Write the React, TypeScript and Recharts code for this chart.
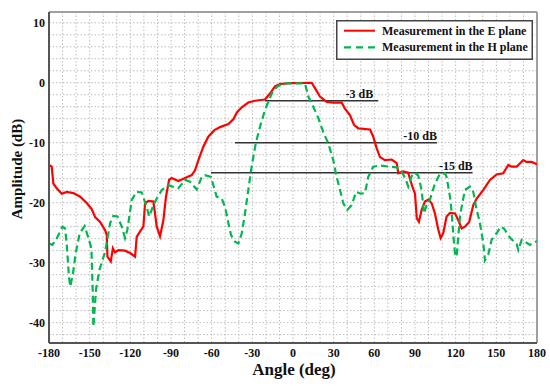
import React from 'react';
import { LineChart, Line, XAxis, YAxis, CartesianGrid, ReferenceLine, Legend } from 'recharts';

const eAngles = [
  -180, -178, -176.8, -174.3, -170.6, -166.9, -162, -157, -152, -148.4, -146, -142.3, -138.6, -137.4,
  -136.9, -134.4, -132.9, -131.3, -128.8, -123.9, -120.2, -116.5, -115.3, -112.8, -110.4, -109.1, -106.7,
  -103, -100.5, -98.1, -95.6, -93.7, -91.4, -89.5, -84.6, -79.6, -74.7, -72.3, -69.8, -66.2, -62.5, -58,
  -53.8, -47.7, -44, -41.5, -37.8, -33, -28, -20.6, -17, -13.3, -9.6, -2, 13.8, 16.2, 19.9, 24.9, 29.7,
  35.9, 38.3, 42, 45, 48.2, 56.8, 59.2, 61.7, 64.2, 67.8, 72.8, 76.5, 77.7, 81.3, 85, 86.5, 88, 90, 91.3,
  92.9, 94.9, 97.3, 99.8, 102.3, 104.7, 107.2, 108.9, 110.8, 113.3, 115.8, 119.5, 121.9, 124.4, 126.8,
  130, 133, 135.5, 140.3, 145.3, 150.2, 155.1, 158.8, 161.3, 165, 169.8, 172.3, 176, 180,
];
const eValues = [
  -13.7, -14.0, -16.8, -17.6, -18.5, -18.2, -18.4, -19.0, -20.1, -21.1, -22.4, -23.2, -24.6, -25.4,
  -29.0, -29.8, -27.6, -28.3, -27.9, -28.0, -28.4, -29.0, -25.7, -24.8, -24.0, -20.1, -19.7,
  -19.8, -24.0, -25.6, -22.9, -19.0, -16.2, -15.9, -16.4, -15.9, -15.4, -14.6, -12.9, -10.7, -9.0, -7.9,
  -7.4, -6.9, -6.1, -5.0, -4.1, -3.3, -3.0, -2.8, -1.8, -0.6, -0.2, -0.05, 0, -0.9, -2.3, -3.2, -3.3,
  -3.3, -4.3, -5.4, -7.0, -7.6, -7.8, -9.0, -10.9, -12.4, -12.9, -12.8, -13.4, -15.1, -14.8, -15.0, -16.2, -17.3, -18.5, -22.6,
  -23.2, -21.2, -19.8, -19.5, -20.1, -21.8, -24.5, -25.9, -25.1, -22.3, -21.7, -21.8, -22.9, -24.3, -24.0,
  -23.2, -20.4, -19.3, -17.9, -16.2, -15.3, -15.1, -13.7, -14.0, -14.0, -12.9, -13.2, -13.2, -13.6,
];

const hAngles = [
  -180, -177.5, -174.6, -170.1, -168.1, -166.8, -165.3, -164.3, -162.3, -160.3, -157.3, -153.7, -151.2,
  -148.7, -147.7, -147.3, -145.3, -142.8, -138.6, -136.2, -134.9, -132.5, -129.5, -126.3, -123.9, -122.2,
  -118.9, -115.3, -111.6, -108.4, -106, -103, -100.5, -96.8, -92, -84.6, -79.6, -76, -71, -67.3, -64.9,
  -60.5, -56.3, -52.6, -50.1, -47.7, -45.7, -42.8, -40.3, -37.8, -35.4, -33, -30.5, -27.5, -24.3, -20.6,
  -17.7, -14.5, -10.8, -5.9, 8.8, 11.3, 15, 18.7, 22.3, 26, 29.7, 32.2, 34.7, 37.1, 40, 43.3, 46.5, 49.9,
  53.1, 55.5, 59.2, 64.2, 71.5, 76.5, 80.2, 83.3, 85, 87.5, 90, 92.4, 94.9, 96.6, 98.6, 101, 104.7, 108.4,
  112.1, 113.3, 115.8, 117, 118.2, 119.5, 120.7, 121.9, 123.2, 124.4, 126.8, 130.5, 133, 135, 137.9,
  140.4, 141.6, 144, 146.5, 150.2, 153.2, 155.6, 160, 165, 166.2, 168.7, 171.1, 174.8, 180,
];
const hValues = [
  -26.8, -27.05, -26.1, -24.0, -24.3, -27.3, -32.3, -34.0, -31.8, -28.4, -25.1, -23.9, -25.7,
  -27.6, -35.1, -40.7, -34.5, -31.2, -28.2, -25.1, -23.4, -22.2, -22.3, -24.0, -25.9, -24.5,
  -19.5, -18.2, -18.3, -20.4, -22.3, -20.4, -19.3, -17.9, -17.1, -17.6, -16.2, -16.5, -17.8, -15.7, -15.4,
  -15.7, -19.0, -19.3, -20.7, -23.4, -25.4, -26.5, -26.8, -25.1, -21.8, -17.9, -14.0, -10.1, -7.3, -4.5,
  -2.9, -1.2, -0.5, -0.1, -0.1, -2.3, -4.0, -5.9, -8.2, -10.1, -12.9, -15.7, -17.9, -20.1, -21.2, -20.4, -18.2, -18.5,
  -18.4, -15.7, -14.0, -13.8, -14.0, -14.1, -14.8, -16.2, -17.3, -15.6, -15.0, -15.5, -17.9, -21.8, -20.4, -19.5, -16.8, -15.2,
  -15.1, -15.7, -19.0, -21.5, -25.1, -28.6, -29.0, -25.7, -22.3, -20.7, -17.9, -17.3, -18.2, -20.7, -23.4,
  -26.8, -29.6, -28.7, -26.2, -25.1, -24.0, -24.3, -25.8, -26.9, -27.9, -26.2, -26.5, -27.05, -26.4,
];

const xTicks = [-180, -150, -120, -90, -60, -30, 0, 30, 60, 90, 120, 150, 180];
const yTicks = [-40, -30, -20, -10, 0, 10];
const gridX = [-170, -160, -150, -140, -130, -120, -110, -100, -90, -80, -70, -60, -50, -40, -30, -20, -10, 0,
  10, 20, 30, 40, 50, 60, 70, 80, 90, 100, 110, 120, 130, 140, 150, 160, 170];
const gridY = [-42, -40, -38, -36, -34, -32, -30, -28, -26, -24, -22, -20, -18, -16, -14, -12, -10, -8, -6, -4,
  -2, 0, 2, 4, 6, 8, 10];

const levels = [-3, -10, -15];
const levelStarts = [-20.6, -42.8, -60.5];
const levelEnds = [62.9, 106.2, 132.5];
const levelLabels = ['-3 dB', '-10 dB', '-15 dB'];

const seriesNames = ['Measurement in the E plane', 'Measurement in the H plane'];

const eData = eAngles.map((a, i) => ({ a, v: eValues[i] }));
const hData = hAngles.map((a, i) => ({ a, v: hValues[i] }));

const SERIF = '"Liberation Serif", "Times New Roman", serif';
const RED = '#ff0000';
const GREEN = '#00b84f';

const LegendBox = () => (
  <svg width={197} height={40} style={{ display: 'block' }}>
    <rect x={0.75} y={0.75} width={195.5} height={38.5} fill="#fff" stroke="#444" strokeWidth={1.5} />
    <line x1={8} x2={39} y1={10.7} y2={10.7} stroke={RED} strokeWidth={2} />
    <text x={46} y={14.8} fontFamily={SERIF} fontWeight="bold" fontSize={12} fill="#111">{seriesNames[0]}</text>
    <line x1={8} x2={39} y1={27.3} y2={27.3} stroke={GREEN} strokeWidth={2.2} strokeDasharray="7 5" />
    <text x={46} y={31.4} fontFamily={SERIF} fontWeight="bold" fontSize={12} fill="#111">{seriesNames[1]}</text>
  </svg>
);

export default function App() {
  return (
    <div style={{ position: 'absolute', left: 0, top: 0, width: 550, height: 386, background: '#fff' }}>
      <LineChart width={550} height={386} margin={{ top: 12, right: 13, bottom: 0, left: 0 }}>
        <CartesianGrid
          verticalValues={gridX}
          horizontalValues={gridY}
          stroke="#bdbdbd"
          strokeDasharray="1.5 2"
        />
        <XAxis
          dataKey="a"
          type="number"
          domain={[-180, 180]}
          ticks={xTicks}
          interval={0}
          height={43}
          tickSize={0}
          tickMargin={5}
          tickLine={false}
          axisLine={{ stroke: '#555', strokeWidth: 2 }}
          tick={{ fontFamily: SERIF, fontWeight: 'bold', fontSize: 12, fill: '#111' }}
          allowDataOverflow
          label={{
            content: (p: any) => {
              const vb = p.viewBox || { x: 49, y: 343, width: 488 };
              return (
                <text x={vb.x + vb.width / 2 + 1} y={vb.y + 32} textAnchor="middle" fontFamily={SERIF}
                  fontWeight="bold" fontSize={17} fill="#111">Angle (deg)</text>
              );
            },
          }}
        />
        <YAxis
          type="number"
          domain={[-43.4, 11.8]}
          ticks={yTicks}
          interval={0}
          width={49}
          tickSize={0}
          tickMargin={4}
          tickLine={false}
          axisLine={{ stroke: '#555', strokeWidth: 2 }}
          tick={{ fontFamily: SERIF, fontWeight: 'bold', fontSize: 12, fill: '#111' }}
          allowDataOverflow
          label={{
            content: (p: any) => {
              const vb = p.viewBox || { x: 0, y: 12, height: 331 };
              const cx = 16.7;
              const cy = vb.y + vb.height / 2 - 8.5;
              return (
                <text x={cx} y={cy} transform={`rotate(-90 ${cx} ${cy})`} textAnchor="middle"
                  dominantBaseline="central" fontFamily={SERIF} fontWeight="bold" fontSize={15} fill="#111">
                  Amplitude (dB)
                </text>
              );
            },
          }}
        />
        <ReferenceLine y={11.8} stroke="#a0a0a0" strokeWidth={2} ifOverflow="visible" />
        <ReferenceLine x={180} stroke="#a0a0a0" strokeWidth={2} ifOverflow="visible" />
        {levels.map((lv, i) => (
          <ReferenceLine
            key={lv}
            segment={[{ x: levelStarts[i], y: lv }, { x: levelEnds[i], y: lv }]}
            stroke="#333"
            strokeWidth={1.5}
            label={{
              content: (p: any) => {
                const vb = p.viewBox;
                if (!vb) return null;
                const xr = vb.x + vb.width - (i === 0 ? 5 : 0);
                return (
                  <text x={xr} y={vb.y - 3} textAnchor="end" fontFamily={SERIF} fontWeight="bold"
                    fontSize={12} fill="#111">{levelLabels[i]}</text>
                );
              },
            }}
          />
        ))}
        <Line data={eData} dataKey="v" name={seriesNames[0]} type="linear" stroke={RED} strokeWidth={2.2}
          dot={false} isAnimationActive={false} />
        <Line data={hData} dataKey="v" name={seriesNames[1]} type="linear" stroke={GREEN} strokeWidth={2.2}
          strokeDasharray="7 4" dot={false} isAnimationActive={false} />
        <Legend
          layout="vertical"
          align="center"
          verticalAlign="middle"
          content={() => <LegendBox />}
          wrapperStyle={{ position: 'absolute', left: 336, top: 20, width: 197, height: 40 }}
        />
      </LineChart>
    </div>
  );
}
